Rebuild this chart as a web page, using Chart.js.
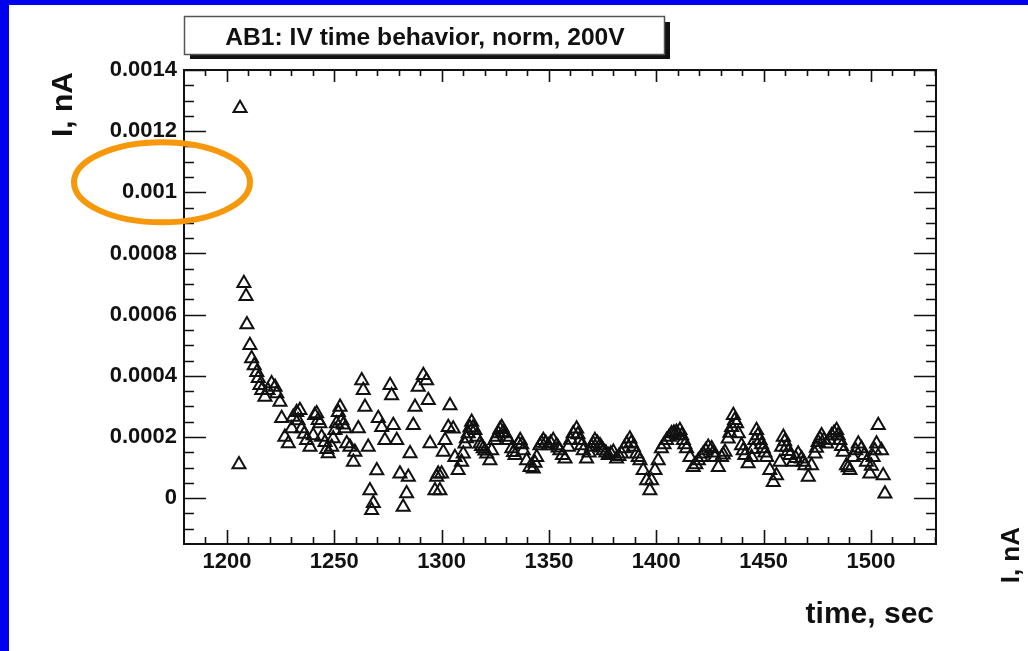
<!DOCTYPE html>
<html>
<head>
<meta charset="utf-8">
<title>AB1: IV time behavior</title>
<script src="https://cdn.jsdelivr.net/npm/chart.js@4.4.1/dist/chart.umd.min.js"></script>
<style>
  html, body { margin: 0; padding: 0; }
  body {
    width: 1028px; height: 651px; overflow: hidden; position: relative;
    background: #0000ee;
  }
  #sheet { position: absolute; left: 9px; top: 5px; right: 0; bottom: 0; background: #fff; }
  #plot { position: absolute; left: 0; top: 0; }
</style>
</head>
<body>
<div id="sheet"></div>
<canvas id="plot" width="1028" height="651"></canvas>
<script>
// time in sec
const times = [
  1205.6, 1206.1, 1207.9, 1208.9, 1209.3, 1210.7, 1211.5, 1212.7, 1213.9, 1214.6,
  1215.4, 1216.2, 1217.7, 1219.1, 1220.8, 1222.4, 1223.2, 1224.7, 1225.5, 1227.0,
  1228.6, 1230.2, 1230.9, 1232.5, 1233.1, 1234.0, 1234.8, 1236.0, 1237.1, 1238.7,
  1240.2, 1240.9, 1241.8, 1242.5, 1243.3, 1244.1, 1245.7, 1246.5, 1247.2, 1248.8,
  1249.5, 1250.3, 1251.0, 1251.9, 1252.7, 1253.5, 1254.2, 1255.0, 1255.8, 1257.3,
  1258.9, 1259.6, 1261.2, 1262.8, 1263.5, 1264.3, 1265.8, 1266.6, 1267.4, 1268.2,
  1269.8, 1270.5, 1272.1, 1273.6, 1276.0, 1276.7, 1277.5, 1279.1, 1280.6, 1282.1,
  1283.7, 1284.5, 1285.3, 1286.8, 1287.6, 1289.1, 1291.5, 1293.0, 1293.8, 1294.6,
  1296.9, 1297.7, 1298.4, 1299.2, 1300.0, 1300.8, 1301.6, 1303.1, 1303.9, 1305.4,
  1306.2, 1307.7, 1309.3, 1310.1, 1310.9, 1311.6, 1312.4, 1313.2, 1314.0, 1314.6,
  1315.5, 1316.3, 1317.9, 1318.6, 1319.4, 1320.2, 1321.0, 1322.5, 1323.3, 1324.8,
  1325.6, 1326.4, 1327.2, 1328.0, 1328.6, 1329.5, 1330.3, 1331.1, 1332.7, 1333.5,
  1334.2, 1335.8, 1336.6, 1337.3, 1338.0, 1339.6, 1341.2, 1342.7, 1343.5, 1344.3,
  1345.8, 1346.6, 1347.4, 1348.5, 1349.7, 1350.8, 1352.0, 1353.6, 1354.3, 1355.1,
  1356.3, 1357.5, 1359.0, 1360.1, 1361.3, 1362.9, 1363.5, 1364.4, 1365.2, 1366.0,
  1367.5, 1368.7, 1369.9, 1370.6, 1371.4, 1372.6, 1373.8, 1374.5, 1375.3, 1376.5,
  1377.6, 1378.8, 1380.0, 1381.5, 1382.6, 1383.8, 1385.0, 1386.2, 1387.7, 1388.3,
  1389.3, 1390.8, 1391.6, 1392.4, 1393.9, 1395.5, 1397.0, 1397.8, 1399.4, 1400.9,
  1402.4, 1403.6, 1404.8, 1406.0, 1407.1, 1408.2, 1409.4, 1410.2, 1411.0, 1411.8,
  1412.6, 1413.3, 1414.1, 1415.7, 1417.2, 1418.4, 1419.6, 1420.8, 1421.9, 1423.0,
  1424.2, 1425.8, 1426.5, 1427.3, 1428.9, 1430.4, 1431.2, 1432.0, 1433.5, 1434.3,
  1435.1, 1435.9, 1436.5, 1437.4, 1438.2, 1439.7, 1440.5, 1441.3, 1442.8, 1444.4,
  1445.1, 1445.9, 1446.7, 1447.3, 1448.3, 1449.0, 1449.8, 1450.6, 1451.4, 1452.9,
  1454.5, 1456.0, 1457.6, 1458.4, 1459.2, 1459.8, 1460.7, 1461.5, 1462.3, 1463.8,
  1465.0, 1466.1, 1467.7, 1468.5, 1469.2, 1470.8, 1472.3, 1473.9, 1474.6, 1475.4,
  1476.2, 1477.0, 1478.1, 1479.3, 1480.5, 1481.7, 1482.8, 1484.0, 1484.7, 1485.5,
  1486.3, 1487.1, 1488.6, 1489.4, 1490.2, 1491.7, 1492.9, 1494.1, 1495.6, 1496.8,
  1497.9, 1499.5, 1500.2, 1501.0, 1501.8, 1502.6, 1503.4, 1504.9, 1505.7, 1506.5
];
// current in units of 1e-4 nA, same order as times
const currentE4 = [
  1.10, 12.75, 7.03, 6.60, 5.68, 5.00, 4.57, 4.34, 4.12, 3.92,
  3.69, 3.53, 3.31, 3.53, 3.75, 3.63, 3.42, 3.14, 2.61, 2.00,
  1.79, 2.28, 2.65, 2.81, 2.54, 2.87, 2.28, 2.10, 1.89, 1.67,
  2.05, 2.71, 2.77, 2.55, 2.44, 2.00, 1.83, 1.60, 1.46, 1.67,
  1.95, 2.22, 2.44, 2.81, 2.98, 2.54, 2.40, 2.28, 1.79, 1.67,
  1.18, 1.51, 2.28, 3.85, 3.53, 2.98, 1.67, 0.25, -0.40, -0.17,
  0.90, 2.61, 2.32, 1.89, 3.69, 3.36, 2.38, 1.89, 0.80, -0.29,
  0.15, 0.69, 1.46, 2.38, 2.98, 3.63, 4.02, 3.85, 3.20, 1.79,
  0.25, 0.69, 0.80, 0.25, 0.80, 1.51, 1.89, 2.32, 3.03, 2.27,
  1.34, 0.91, 1.18, 1.45, 1.78, 1.95, 2.11, 2.30, 2.49, 2.30,
  2.22, 2.00, 1.78, 1.70, 1.62, 1.55, 1.45, 1.23, 1.56, 1.89,
  2.00, 2.11, 2.25, 2.32, 2.15, 2.11, 2.00, 1.89, 1.62, 1.50,
  1.40, 1.78, 1.89, 1.75, 1.56, 1.23, 1.01, 0.96, 1.15, 1.34,
  1.72, 1.80, 1.89, 1.80, 1.72, 1.80, 1.89, 1.72, 1.65, 1.56,
  1.40, 1.29, 1.67, 1.90, 2.11, 2.27, 2.08, 1.89, 1.72, 1.56,
  1.29, 1.48, 1.67, 1.78, 1.89, 1.80, 1.72, 1.65, 1.56, 1.48,
  1.40, 1.45, 1.51, 1.29, 1.37, 1.45, 1.62, 1.78, 1.94, 1.80,
  1.67, 1.45, 1.34, 1.23, 0.91, 0.58, 0.25, 0.58, 0.91, 1.23,
  1.62, 1.75, 1.89, 2.00, 2.11, 2.14, 2.16, 2.05, 2.22, 2.05,
  1.89, 1.75, 1.62, 1.34, 1.01, 1.10, 1.23, 1.34, 1.45, 1.56,
  1.67, 1.62, 1.48, 1.34, 1.01, 1.34, 1.42, 1.51, 1.94, 2.13,
  2.32, 2.71, 2.55, 2.44, 2.11, 1.72, 1.56, 1.40, 1.13, 1.34,
  1.60, 1.89, 2.22, 2.05, 1.89, 1.75, 1.62, 1.48, 1.34, 0.91,
  0.52, 0.74, 1.18, 1.67, 2.00, 1.85, 1.67, 1.53, 1.40, 1.18,
  1.30, 1.45, 1.29, 1.18, 1.07, 0.69, 1.07, 1.45, 1.64, 1.83,
  1.94, 2.05, 1.90, 1.78, 1.90, 2.05, 2.13, 2.22, 2.05, 1.89,
  1.70, 1.51, 1.07, 1.00, 0.91, 1.34, 1.56, 1.78, 1.62, 1.40,
  1.18, 0.80, 1.05, 1.34, 1.56, 1.78, 2.38, 1.56, 0.74, 0.14
];

const xTickValues = [1200, 1250, 1300, 1350, 1400, 1450, 1500];
const yTickValues = [0, 0.0002, 0.0004, 0.0006, 0.0008, 0.001, 0.0012, 0.0014];
const yTickLabels = ['0', '0.0002', '0.0004', '0.0006', '0.0008', '0.001', '0.0012', '0.0014'];

const titleText = 'AB1: IV time behavior, norm, 200V';
const xTitle = 'time, sec';
const yTitle = 'I, nA';

const points = times.map((t, i) => ({ x: t, y: currentE4[i] * 1e-4 }));

const FONT = '"Liberation Sans", Arial, sans-serif';

// frame, inside ticks, title pave, axis titles and the orange mark
const framePlugin = {
  id: 'frame',
  afterDraw(chart) {
    const c = chart.ctx;
    const a = chart.chartArea;
    const xs = chart.scales.x;
    const ys = chart.scales.y;
    c.save();
    c.strokeStyle = '#111';
    c.lineWidth = 2;
    c.strokeRect(a.left, a.top, a.right - a.left, a.bottom - a.top);

    c.lineWidth = 1.6;
    c.beginPath();
    for (let v = 1190; v <= 1530; v += 10) {
      const px = Math.round(xs.getPixelForValue(v)) + 0.5;
      const major = v % 50 === 0;
      const lb = major ? 14 : 7;
      const lt = major ? 12 : 6;
      c.moveTo(px, a.bottom); c.lineTo(px, a.bottom - lb);
      c.moveTo(px, a.top); c.lineTo(px, a.top + lt);
    }
    for (let k = -3; k <= 28; k++) {
      const v = k * 0.00005;
      const py = Math.round(ys.getPixelForValue(v)) + 0.5;
      if (py < a.top || py > a.bottom) continue;
      const major = k % 4 === 0;
      const l = major ? 22 : 10;
      c.moveTo(a.left, py); c.lineTo(a.left + l, py);
      c.moveTo(a.right, py); c.lineTo(a.right - l, py);
    }
    c.stroke();

    // title pave with shadow
    c.fillStyle = '#111';
    c.fillRect(190, 55, 480, 4);
    c.fillRect(665, 22, 5, 37);
    c.fillStyle = '#fff';
    c.fillRect(184, 16, 481, 39);
    c.strokeStyle = '#555';
    c.lineWidth = 1.5;
    c.strokeRect(184.5, 16.5, 480, 38);
    c.fillStyle = '#111';
    c.font = 'bold 23px ' + FONT;
    c.textAlign = 'center';
    c.textBaseline = 'alphabetic';
    c.save();
    c.translate(425, 45);
    c.scale(1.07, 1);
    c.fillText(titleText, 0, 0);
    c.restore();

    // x title
    c.font = 'bold 30px ' + FONT;
    c.textAlign = 'right';
    c.fillText(xTitle, 934, 623);

    // y title, rotated
    c.save();
    c.translate(72, 72);
    c.rotate(-Math.PI / 2);
    c.fillText(yTitle, 0, 0);
    c.restore();

    // neighbouring pad's y title at the right edge
    c.save();
    c.font = 'bold 26px ' + FONT;
    c.translate(1019, 527);
    c.rotate(-Math.PI / 2);
    c.fillText(yTitle, 0, 0);
    c.restore();

    // orange ring around the 0.001 label
    const ey = ys.getPixelForValue(0.001) - 10;
    c.strokeStyle = '#f7980a';
    c.lineWidth = 6;
    c.beginPath();
    c.ellipse(a.left - 22, ey, 88, 40, 0, 0, Math.PI * 2);
    c.stroke();
    c.restore();
  }
};

const chart = new Chart(document.getElementById('plot').getContext('2d'), {
  type: 'scatter',
  data: {
    datasets: [{
      data: points,
      pointStyle: 'triangle',
      pointRadius: 7.5,
      pointBorderWidth: 2,
      borderColor: '#111',
      backgroundColor: 'rgba(0,0,0,0)',
      showLine: false
    }]
  },
  options: {
    responsive: false,
    animation: false,
    devicePixelRatio: 1,
    layout: { padding: { top: 70, right: 92, left: 0, bottom: 0 } },
    plugins: { legend: { display: false }, tooltip: { enabled: false } },
    scales: {
      x: {
        type: 'linear',
        min: 1180,
        max: 1530.3,
        afterBuildTicks: s => { s.ticks = xTickValues.map(v => ({ value: v })); },
        afterFit: s => { s.height = 107; },
        grid: { display: false, drawTicks: false },
        border: { display: false },
        ticks: {
          color: '#111',
          padding: 5,
          maxRotation: 0,
          autoSkip: false,
          font: { family: FONT, size: 22, weight: 'bold' },
          callback: v => String(v)
        }
      },
      y: {
        type: 'linear',
        min: -0.00015,
        max: 0.0014,
        afterBuildTicks: s => { s.ticks = yTickValues.map(v => ({ value: v })); },
        afterFit: s => { s.width = 184; },
        grid: { display: false, drawTicks: false },
        border: { display: false },
        ticks: {
          color: '#111',
          padding: 7,
          autoSkip: false,
          font: { family: FONT, size: 22, weight: 'bold' },
          callback: (v, i) => yTickLabels[i]
        }
      }
    }
  },
  plugins: [framePlugin]
});
</script>
</body>
</html>
